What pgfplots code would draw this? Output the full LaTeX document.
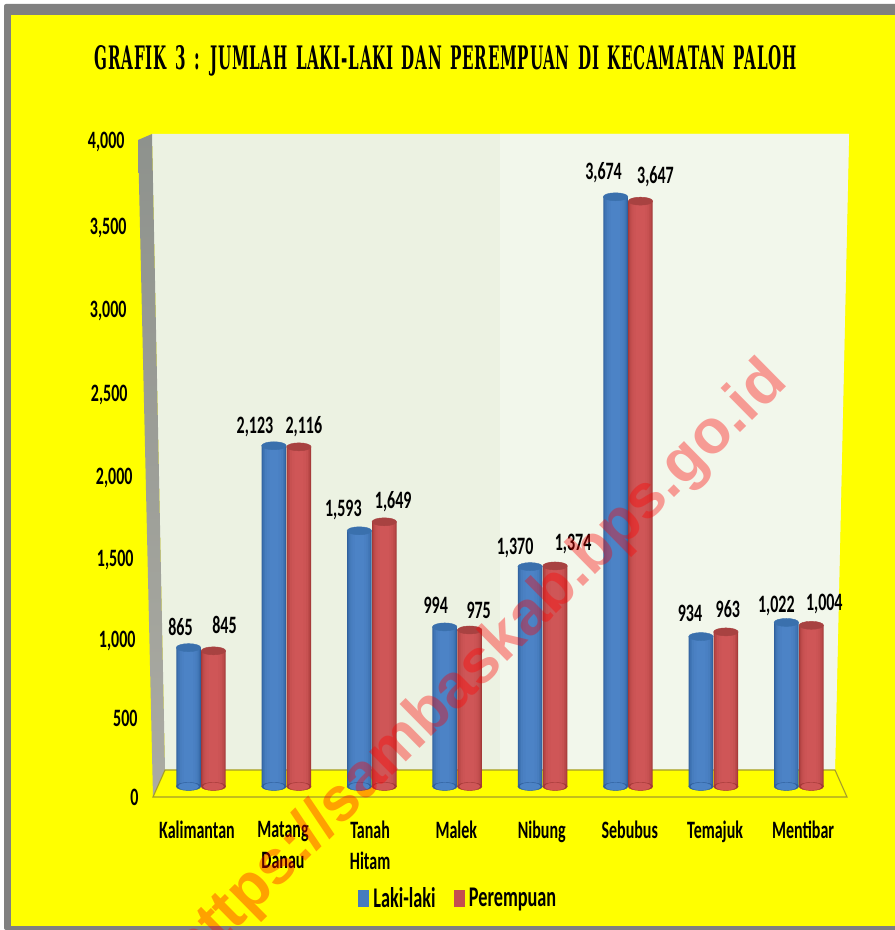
\documentclass[border=0pt]{standalone}
\usepackage{fontspec}
\usepackage{pgfplots}
\usepackage{pgfplotstable}
\pgfplotsset{compat=1.18}
\setmainfont[FakeStretch=0.64]{Carlito}
\newfontfamily\titlefont[LetterSpace=5,WordSpace=1.4]{DejaVu Serif}
\newfontfamily\wmfont{Liberation Sans}

\definecolor{bgyellow}{HTML}{FFFF00}
\definecolor{frame}{HTML}{808080}
\definecolor{wallA}{HTML}{ECF2E2}
\definecolor{wallB}{HTML}{F2F7EB}
\definecolor{sideT}{HTML}{8E928D}
\definecolor{sideB}{HTML}{ABABA3}
\definecolor{floorline}{HTML}{A59C2A}
\definecolor{blueL}{HTML}{2F5F9C}
\definecolor{blueM}{HTML}{4C83C6}
\definecolor{blueC}{HTML}{3A70AD}
\definecolor{redL}{HTML}{A23836}
\definecolor{redM}{HTML}{CF5657}
\definecolor{redC}{HTML}{A84241}

% x = group position, y = value, b = base, dx/dy = label offset in pt
\pgfplotstableread{
x       y    b dx  dy
-0.146  865  0 -8  19
0.854   2123 0 -19 17
1.854   1593 0 -16 19
2.854   994  0 -9  20
3.854   1370 0 -15 17
4.854   3674 0 -12 23
5.854   934  0 -11 22
6.854   1022 0 -10 15
}\lakilaki
\pgfplotstableread{
x       y    b dx  dy
0.146   845  0 11  24
1.146   2116 0 5   19
2.146   1649 0 9   19
3.146   975  0 9   18.5
4.146   1374 0 18  20
5.146   3647 0 15  23
6.146   963  0 2   21
7.146   1004 0 13  20
}\perempuan

% cylinder ends; canvas cs because plain coordinates would be axis cs in here
\pgfdeclareplotmark{botL}{\fill[blueL] (canvas cs:x=0pt,y=0pt) ellipse (12.25pt and 4pt);\fill[blueM] (canvas cs:x=0pt,y=0pt) ellipse (10pt and 3.6pt);}
\pgfdeclareplotmark{botR}{\fill[redL] (canvas cs:x=0pt,y=0pt) ellipse (12.25pt and 4pt);\fill[redM] (canvas cs:x=0pt,y=0pt) ellipse (10pt and 3.6pt);}
\pgfdeclareplotmark{capL}{\fill[blueC] (canvas cs:x=0pt,y=0pt) ellipse (12.25pt and 4pt);}
\pgfdeclareplotmark{capR}{\fill[redC] (canvas cs:x=0pt,y=0pt) ellipse (12.25pt and 4pt);}

\newcommand\yl[2]{#1\hspace*{#2pt}}
% one cylinder body: bars of shrinking width, edge colour to middle colour
\newcommand\band[3]{\addplot[ybar,bar shift=0pt,bar width=#2pt,draw=none,fill=#3,forget plot] table[x=x,y=y] {#1};}
\newcommand\body[3]{%
  \band{#1}{24.5}{#2}
  \band{#1}{23}{#3!35!#2}
  \band{#1}{21}{#3!60!#2}
  \band{#1}{18}{#3!82!#2}
  \band{#1}{14}{#3!93!#2}
  \band{#1}{9}{#3}
}

\begin{document}
\begin{tikzpicture}[x=1pt,y=1pt]
\clip (0,0) rectangle (895,930);
\fill[white] (0,0) rectangle (895,930);
\fill[frame,rounded corners=2pt] (4,0) rectangle (897,926);
\fill[bgyellow] (11,4) rectangle (895,915);

% chart walls and floor
\fill[wallA] (152,796) -- (849,796) -- (835,160) -- (165,160) -- cycle;
\fill[wallB] (500,796) -- (849,796) -- (835,160) -- (500,160) -- cycle;
\shade[top color=sideT,bottom color=sideB] (138,790) -- (152,796) -- (165,160) -- (153,133) -- cycle;
\fill[bgyellow] (165,160) -- (835,160) -- (847,133) -- (153,133) -- cycle;
\draw[floorline,line width=1.1pt] (165,160) -- (835,160) -- (847,133) -- (153,133) -- cycle;

\node[font=\titlefont\bfseries] at (446,869) {\resizebox{702pt}{24pt}{GRAFIK 3 : JUMLAH LAKI-LAKI DAN PEREMPUAN DI KECAMATAN PALOH}};

\begin{axis}[
    at={(153pt,131.5pt)},
    anchor=south west,
    scale only axis,
    width=694pt,
    height=663pt,
    xmin=-0.562, xmax=7.564,
    ymin=-75, ymax=4056,
    axis line style={draw=none},
    tick style={draw=none},
    clip=false,
    /pgf/number format/assume math mode=true,
    /pgf/number format/1000 sep={,},
    xtick={-0.047,0.96,1.98,2.99,3.99,5.02,6.02,7.05},
    xticklabels={Kalimantan,Matang\\Danau,Tanah\\Hitam,Malek,Nibung,Sebubus,Temajuk,Mentibar},
    xticklabel style={align=center,yshift=-19pt},
    ytick={-66,424,909,1414,1924,2440,2963,3480,4016},
    yticklabels={{\yl{0}{0}},{\yl{500}{1}},{\yl{1,000}{3}},{\yl{1,500}{5}},{\yl{2,000}{6}},{\yl{2,500}{11}},{\yl{3,000}{12}},{\yl{3,500}{12}},{\yl{4,000}{14}}},
    yticklabel style={anchor=east,xshift=-11pt},
    tick label style={font=\bfseries\fontsize{25}{31}\selectfont},
    visualization depends on={\thisrow{dx} \as \dxv},
    visualization depends on={\thisrow{dy} \as \dyv},
    legend style={draw=none,fill=none,legend columns=-1,at={(axis cs:3.01,-695)},anchor=center,
        font=\bfseries\fontsize{28.5}{30}\selectfont,
        /tikz/every even column/.append style={column sep=16pt},
        /tikz/every odd column/.append style={column sep=3pt}},
    legend cell align=left,
]
% Laki-laki
\addplot[only marks,mark=botL,forget plot] table[x=x,y=b] {\lakilaki};
\body{\lakilaki}{blueL}{blueM}
\addplot[only marks,mark=capL,forget plot,point meta=y,nodes near coords,
    every node near coord/.append style={anchor=center,text=black,xshift=\dxv pt,yshift=\dyv pt+1.5pt,font=\bfseries\fontsize{25}{28}\selectfont}]
    table[x=x,y=y] {\lakilaki};
% Perempuan
\addplot[only marks,mark=botR,forget plot] table[x=x,y=b] {\perempuan};
\body{\perempuan}{redL}{redM}
\addplot[only marks,mark=capR,forget plot,point meta=y,nodes near coords,
    every node near coord/.append style={anchor=center,text=black,xshift=\dxv pt,yshift=\dyv pt+1.5pt,font=\bfseries\fontsize{25}{28}\selectfont}]
    table[x=x,y=y] {\perempuan};

\addlegendimage{legend image code/.code={\fill[blueM!80!blueL] (0pt,-8pt) rectangle (10pt,8pt);}}
\addlegendentry{Laki-laki}
\addlegendimage{legend image code/.code={\fill[redM!75!redL] (0pt,-8pt) rectangle (10pt,8pt);}}
\addlegendentry{Perempuan}
\end{axis}

% watermark over everything
\node[rotate=44.6,font=\wmfont\bfseries\fontsize{62}{62}\selectfont,text=red,text opacity=0.37] at (480,263) {https://sambaskab.bps.go.id};
\end{tikzpicture}
\end{document}
